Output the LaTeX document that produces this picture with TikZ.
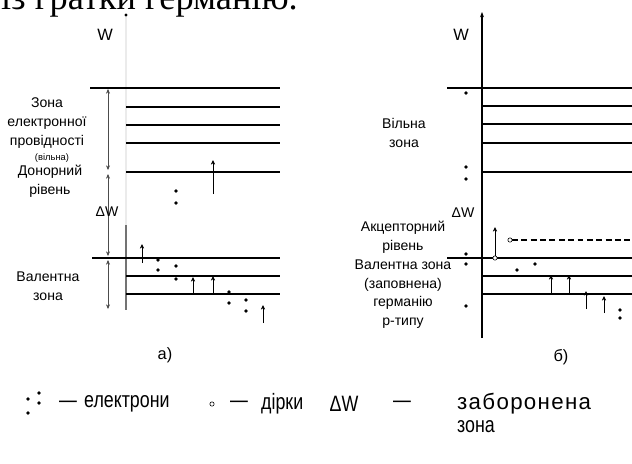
\documentclass[tikz,border=0pt]{standalone}
\usepackage{fontspec}
\setmainfont{Liberation Sans}
\newfontfamily\pageserif{Liberation Serif}
\newfontfamily\narrowsans[FakeStretch=0.8]{Liberation Sans}
\newfontfamily\widesans[LetterSpace=6]{Liberation Sans}
\usetikzlibrary{arrows.meta}
\tikzset{
    bandline/.style={
        draw=black,
        line width=1.4pt
    },
    levelline/.style={
        draw=black,
        line width=1pt,
        dash pattern=on 5pt off 3pt
    },
    axisline/.style={
        draw=black,
        line width=0.9pt
    },
    dimline/.style={
        {Stealth[length=1.4mm,width=1.2mm]}-{Stealth[length=1.4mm,width=1.2mm]},
        draw=black!70,
        line width=0.5pt
    },
    jumparrow/.style={
        -{Stealth[length=1.4mm,width=1.3mm]},
        draw=black,
        line width=0.8pt
    },
    electron/.style={
        circle,
        fill=black,
        inner sep=0pt,
        minimum size=1.1mm
    },
    hole/.style={
        circle,
        draw=black,
        fill=white,
        line width=0.5pt,
        inner sep=0pt,
        minimum size=1.3mm
    },
    zonelabel/.style={
        align=center,
        inner sep=0pt,
        font=\fontsize{12}{16.5}\selectfont
    },
    smalllabel/.style={
        align=center,
        inner sep=0pt,
        font=\fontsize{8}{10}\selectfont
    },
    axislabel/.style={
        inner sep=0pt,
        font=\fontsize{14}{16}\selectfont
    },
    legendtext/.style={
        inner sep=0pt,
        font=\narrowsans\fontsize{19}{22}\selectfont
    }
}

\begin{document}
\begin{tikzpicture}[x=0.03cm, y=-0.03cm]
    \useasboundingbox (0,0) rectangle (632,463);

    % line of the page above, cut off
    \begin{scope}
        \clip (0,0) rectangle (632,463);
        \node[anchor=base east, inner sep=0pt, font=\pageserif\fontsize{31}{36}\selectfont]
            (pagetext) at (298,9) {із гратки германію.};
    \end{scope}

    % ---------- a) ----------
    \coordinate (aaxistop) at (126,15);
    \coordinate (aaxismid) at (126,225);
    \coordinate (aaxisbot) at (126,310);
    \draw[axisline, draw=black!8] (aaxisbot) -- (aaxistop);
    \draw[axisline, draw=black!55] (aaxismid) -- (aaxisbot);
    \fill (aaxistop) circle (0.5mm);

    \draw[bandline] (90,88) -- (280,88);
    \foreach \yy in {107,125,143,172}
        \draw[bandline] (126,\yy) -- (280,\yy);
    \draw[bandline] (92,258) -- (280,258);
    \foreach \yy in {276,294}
        \draw[bandline] (126,\yy) -- (280,\yy);

    \draw[dimline] (108,89) -- (108,170);
    \draw[dimline] (108,174) -- (108,256);
    \draw[dimline] (108,260) -- (108,309);

    \draw[jumparrow] (213,194) -- (213,160);
    \foreach \px/\py in {176/191, 176/203, 158/260, 158/270, 176/266, 176/279,
                        229/292, 229/303, 246/300, 246/311}
        \node[electron] at (\px,\py) {};
    \draw[jumparrow] (142,263) -- (142,244);
    \draw[jumparrow] (193,294) -- (193,277);
    \draw[jumparrow] (213,294) -- (213,276);
    \draw[jumparrow] (263,323) -- (263,305);

    \node[axislabel] (aw) at (105,35) {W};
    \node[zonelabel] (aconduction) at (47,123) {Зона\\електронної\\провідності};
    \node[smalllabel] (afree) at (52,158) {(вільна)};
    \node[zonelabel] (adonor) at (50,181) {Донорний\\рівень};
    \node[zonelabel] (agap) at (107,212) {ΔW};
    \node[zonelabel] (avalence) at (48,286) {Валентна\\зона};
    \node[axislabel] (acaption) at (165,355) {а)};

    % ---------- б) ----------
    \draw[axisline, -{Stealth[length=1.6mm]}] (482,338) -- (482,12);

    \draw[bandline] (447,88) -- (632,88);
    \foreach \yy in {106,124,143,172}
        \draw[bandline] (482,\yy) -- (632,\yy);
    \draw[levelline] (512,240) -- (632,240);
    \draw[bandline] (447,258) -- (632,258);
    \foreach \yy in {276,294}
        \draw[bandline] (482,\yy) -- (632,\yy);

    \node[hole] (bholelow) at (495,258) {};
    \node[hole] (bholeup) at (510,240) {};
    \coordinate (bjumptop) at (495,227);
    \draw[jumparrow] (bholelow) -- (bjumptop);

    \foreach \px/\py in {466/93, 466/167, 466/179, 466/254, 466/264, 466/306,
                        517/270, 535/264, 620/310, 620/318}
        \node[electron] at (\px,\py) {};
    \draw[jumparrow] (551,293) -- (551,275);
    \draw[jumparrow] (569,293) -- (569,275);
    \draw[jumparrow] (586,309) -- (586,291);
    \draw[jumparrow] (604,313) -- (604,296);

    \node[axislabel] (bw) at (461,35) {W};
    \node[zonelabel] (bfree) at (404,133) {Вільна\\зона};
    \node[zonelabel] (bgap) at (463,213) {ΔW};
    \node[zonelabel, font=\fontsize{12}{16}\selectfont] (bacceptor) at (403,275)
        {Акцепторний\\рівень\\Валентна зона\\(заповнена)\\германію\\р-типу};
    \node[axislabel] (bcaption) at (561,357) {б)};

    % ---------- legend ----------
    \node[electron] (lgea) at (28,399) {};
    \node[electron] (lgeb) at (28,413) {};
    \node[electron] (lgec) at (39,393) {};
    \node[electron] (lged) at (39,403) {};
    \node[legendtext] (lgdasha) at (68,404) {—};
    \node[legendtext, anchor=west] (lgelectrons) at (84,404) {електрони};
    \node[hole] (lghole) at (212,404) {};
    \node[legendtext] (lgdashb) at (239,404) {—};
    \node[legendtext, anchor=west] (lgholes) at (261,404) {дірки};
    \node[legendtext] (lggap) at (344,404) {ΔW};
    \node[legendtext] (lgdashc) at (402,404) {—};
    \node[legendtext, anchor=west, font=\widesans\fontsize{19}{22}\selectfont]
        (lgforbidden) at (457,404) {заборонена};
    \node[legendtext, anchor=west] (lgzone) at (457,427) {зона};
\end{tikzpicture}
\end{document}
